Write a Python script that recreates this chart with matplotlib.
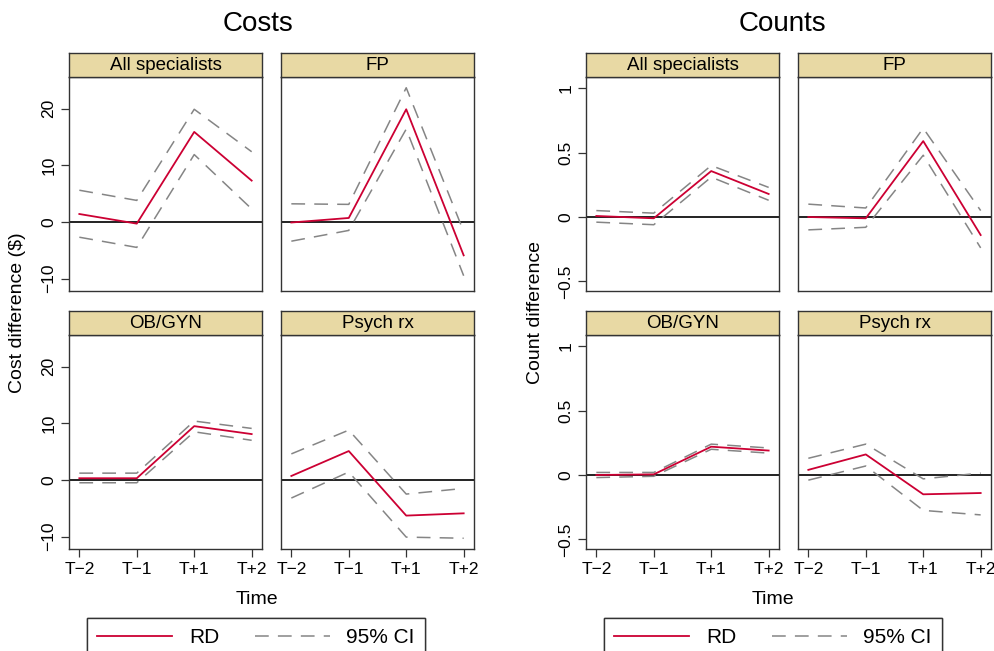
import matplotlib
matplotlib.use("Agg")
import matplotlib.pyplot as plt
from matplotlib.lines import Line2D

plt.rcParams["font.family"] = ["Liberation Sans", "DejaVu Sans"]

# data, one row per panel
time_labels = ["T\u22122", "T\u22121", "T+1", "T+2"]
panel_names = ["All specialists", "FP", "OB/GYN", "Psych rx"]

cost_rd = [[1.4, -0.3, 15.9, 7.3],
           [-0.1, 0.7, 19.9, -5.9],
           [0.3, 0.3, 9.5, 8.1],
           [0.7, 5.1, -6.3, -5.9]]
cost_hi = [[5.6, 3.8, 19.9, 12.4],
           [3.2, 3.1, 23.7, -1.7],
           [1.2, 1.2, 10.4, 9.1],
           [4.6, 8.8, -2.5, -1.5]]
cost_lo = [[-2.7, -4.5, 11.9, 2.3],
           [-3.4, -1.5, 16.4, -9.5],
           [-0.5, -0.5, 8.5, 7.0],
           [-3.2, 1.4, -10.1, -10.3]]

count_rd = [[0.008, -0.01, 0.357, 0.179],
            [0.0, -0.01, 0.59, -0.14],
            [0.0, 0.005, 0.22, 0.19],
            [0.04, 0.16, -0.15, -0.14]]
count_hi = [[0.05, 0.03, 0.40, 0.23],
            [0.10, 0.07, 0.69, 0.05],
            [0.02, 0.02, 0.24, 0.21],
            [0.13, 0.24, -0.03, 0.015]]
count_lo = [[-0.04, -0.06, 0.31, 0.13],
            [-0.10, -0.08, 0.48, -0.24],
            [-0.02, -0.01, 0.20, 0.17],
            [-0.04, 0.07, -0.275, -0.31]]

W, H = 994, 651
RD_COL = "#CC0033"
CI_COL = "#858585"
STRIP_COL = "#E8D9A4"
FRAME_COL = "#333333"

fig = plt.figure(figsize=(W / 100, H / 100), dpi=100)


def px_axes(x0, y0, w, h):
    # pixel box (top-left origin) -> figure axes
    return fig.add_axes([x0 / W, 1 - (y0 + h) / H, w / W, h / H])


def draw_group(col_x, rd, lo, hi, ylim, yticks, yticklabels, title, ylabel,
               title_x, time_x, ylabel_x):
    x = list(range(1, 5))
    rows = [(77, 53), (335, 311)]
    for i, name in enumerate(panel_names):
        r, c = divmod(i, 2)
        top, strip_top = rows[r]
        ax = px_axes(col_x[c], top, 193, 214)
        ax.plot(x, hi[i], color=CI_COL, lw=1.1, dashes=(9, 6))
        ax.plot(x, lo[i], color=CI_COL, lw=1.1, dashes=(9, 6))
        ax.plot(x, rd[i], color=RD_COL, lw=1.3)
        ax.axhline(0, color="#222222", lw=1.4, zorder=1)
        ax.set_xlim(0.82, 4.18)
        ax.set_ylim(*ylim)
        for s in ax.spines.values():
            s.set_color(FRAME_COL)
            s.set_linewidth(1.0)
        ax.tick_params(length=6, width=0.9, color=FRAME_COL, labelsize=12.5,
                       pad=3)
        ax.set_xticks(x)
        if r == 1:
            ax.set_xticklabels(time_labels)
        else:
            ax.tick_params(axis="x", bottom=False, labelbottom=False)
        ax.set_yticks(yticks)
        if c == 0:
            ax.set_yticklabels(yticklabels, rotation=90, va="center")
        else:
            ax.tick_params(axis="y", left=False, labelleft=False)

        sax = px_axes(col_x[c], strip_top, 193, 24)
        sax.set_facecolor(STRIP_COL)
        sax.set_xticks([])
        sax.set_yticks([])
        for s in sax.spines.values():
            s.set_color(FRAME_COL)
            s.set_linewidth(1.0)
        sax.text(0.5, 0.5, name, ha="center", va="center", fontsize=13.5,
                 transform=sax.transAxes)

    fig.text(title_x / W, 1 - 24 / H, title, ha="center", va="center",
             fontsize=20)
    fig.text(time_x / W, 1 - 599 / H, "Time", ha="center", va="center",
             fontsize=14)
    fig.text(ylabel_x / W, 1 - 313 / H, ylabel, ha="center", va="center",
             fontsize=14, rotation=90)


draw_group([69, 281], cost_rd, cost_lo, cost_hi, (-12.2, 25.6),
           [-10, 0, 10, 20], ["\u221210", "0", "10", "20"],
           "Costs", "Cost difference ($)", 258, 257, 18)
draw_group([586, 798], count_rd, count_lo, count_hi, (-0.575, 1.088),
           [-0.5, 0, 0.5, 1], ["\u22120.5", "0", "0.5", "1"],
           "Counts", "Count difference", 782, 773, 535)

handles = [Line2D([], [], color=RD_COL, lw=1.3),
           Line2D([], [], color=CI_COL, lw=1.1, dashes=(9, 6))]
for lx in (87, 604):
    leg = fig.legend(handles, ["RD", "95% CI"], ncol=2, loc="upper left",
                     bbox_to_anchor=(lx / W, 1 - 618 / H, 338 / W, 0),
                     mode="expand", fontsize=15, frameon=True,
                     fancybox=False, edgecolor=FRAME_COL, framealpha=1,
                     handlelength=3.6, handletextpad=0.8, borderpad=0.5,
                     borderaxespad=0, columnspacing=2.0)
    leg.get_frame().set_linewidth(1.0)
    fig.add_artist(leg)

fig.savefig("out.png", dpi=100)
